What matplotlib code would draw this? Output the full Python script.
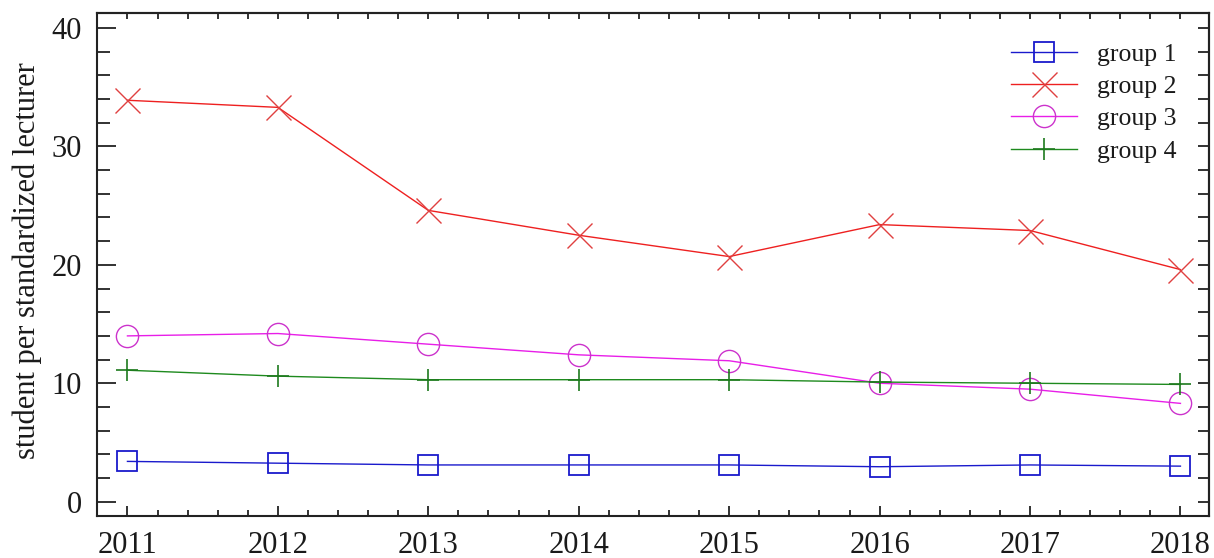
import matplotlib.pyplot as plt
from matplotlib.ticker import MultipleLocator

plt.rcParams['font.family'] = ['Liberation Serif', 'DejaVu Serif']

years = [2011, 2012, 2013, 2014, 2015, 2016, 2017, 2018]
group1 = [3.4, 3.25, 3.1, 3.1, 3.1, 2.95, 3.1, 3.0]
group2 = [33.9, 33.3, 24.6, 22.5, 20.7, 23.4, 22.9, 19.6]
group3 = [14.0, 14.2, 13.3, 12.4, 11.9, 10.0, 9.5, 8.3]
group4 = [11.1, 10.6, 10.3, 10.3, 10.3, 10.1, 10.0, 9.9]

fig = plt.figure(figsize=(12.14, 5.58), dpi=100)
ax = fig.add_axes([0.0802, 0.0753, 0.9157, 0.9014])

ax.plot(years, group1, color='#1a1acc', lw=1.0, marker='s', ms=15,
        mfc='none', mec='#1a1acc', mew=1.3, label='group 1')
ax.plot(years, group2, color='#ee2020', lw=1.0, marker='x', ms=18,
        mec='#e04040', mew=1.0, label='group 2')
ax.plot(years, group3, color='#e81ee8', lw=1.0, marker='o', ms=16,
        mfc='none', mec='#cc33cc', mew=1.0, label='group 3')
ax.plot(years, group4, color='#1e8a1e', lw=1.0, marker='+', ms=16,
        mec='#1e7a1e', mew=1.2, label='group 4')

ax.set_xlim(2010.8, 2018.19)
ax.set_ylim(-1.21, 41.27)
ax.xaxis.set_major_locator(MultipleLocator(1))
ax.xaxis.set_minor_locator(MultipleLocator(0.2))
ax.yaxis.set_major_locator(MultipleLocator(10))
ax.yaxis.set_minor_locator(MultipleLocator(2))

ax.tick_params(axis='both', which='both', direction='in', labelsize=22,
               labelcolor='#1a1a1a', color='#222222', width=1.3)
ax.tick_params(axis='y', which='major', length=14, pad=11)
ax.tick_params(axis='y', which='minor', length=9)
ax.tick_params(axis='x', which='major', length=7, pad=11)
ax.tick_params(axis='x', which='minor', length=4)

# ticks on the top and right sides, no labels
top = ax.secondary_xaxis('top')
top.xaxis.set_major_locator(MultipleLocator(1))
top.xaxis.set_minor_locator(MultipleLocator(0.2))
top.tick_params(which='both', direction='in', length=4, width=1.3,
                labeltop=False, colors='#222222')
right = ax.secondary_yaxis('right')
right.yaxis.set_major_locator(MultipleLocator(10))
right.yaxis.set_minor_locator(MultipleLocator(2))
right.tick_params(which='both', direction='in', length=8, width=1.3,
                  labelright=False, colors='#222222')
for a in (ax, top, right):
    for s in a.spines.values():
        s.set_linewidth(1.5)
        s.set_color('#222222')

ax.set_ylabel('student per standardized lecturer', fontsize=22,
              color='#1a1a1a')
ax.yaxis.set_label_coords(-0.05, 0.507)

leg = ax.legend(loc='upper right', frameon=False, fontsize=18.5,
                handlelength=2.55, labelspacing=0.36, handletextpad=0.78,
                borderaxespad=0, bbox_to_anchor=(0.98, 0.961))
for t in leg.get_texts():
    t.set_color('#1a1a1a')

fig.savefig('out.png', dpi=100)
